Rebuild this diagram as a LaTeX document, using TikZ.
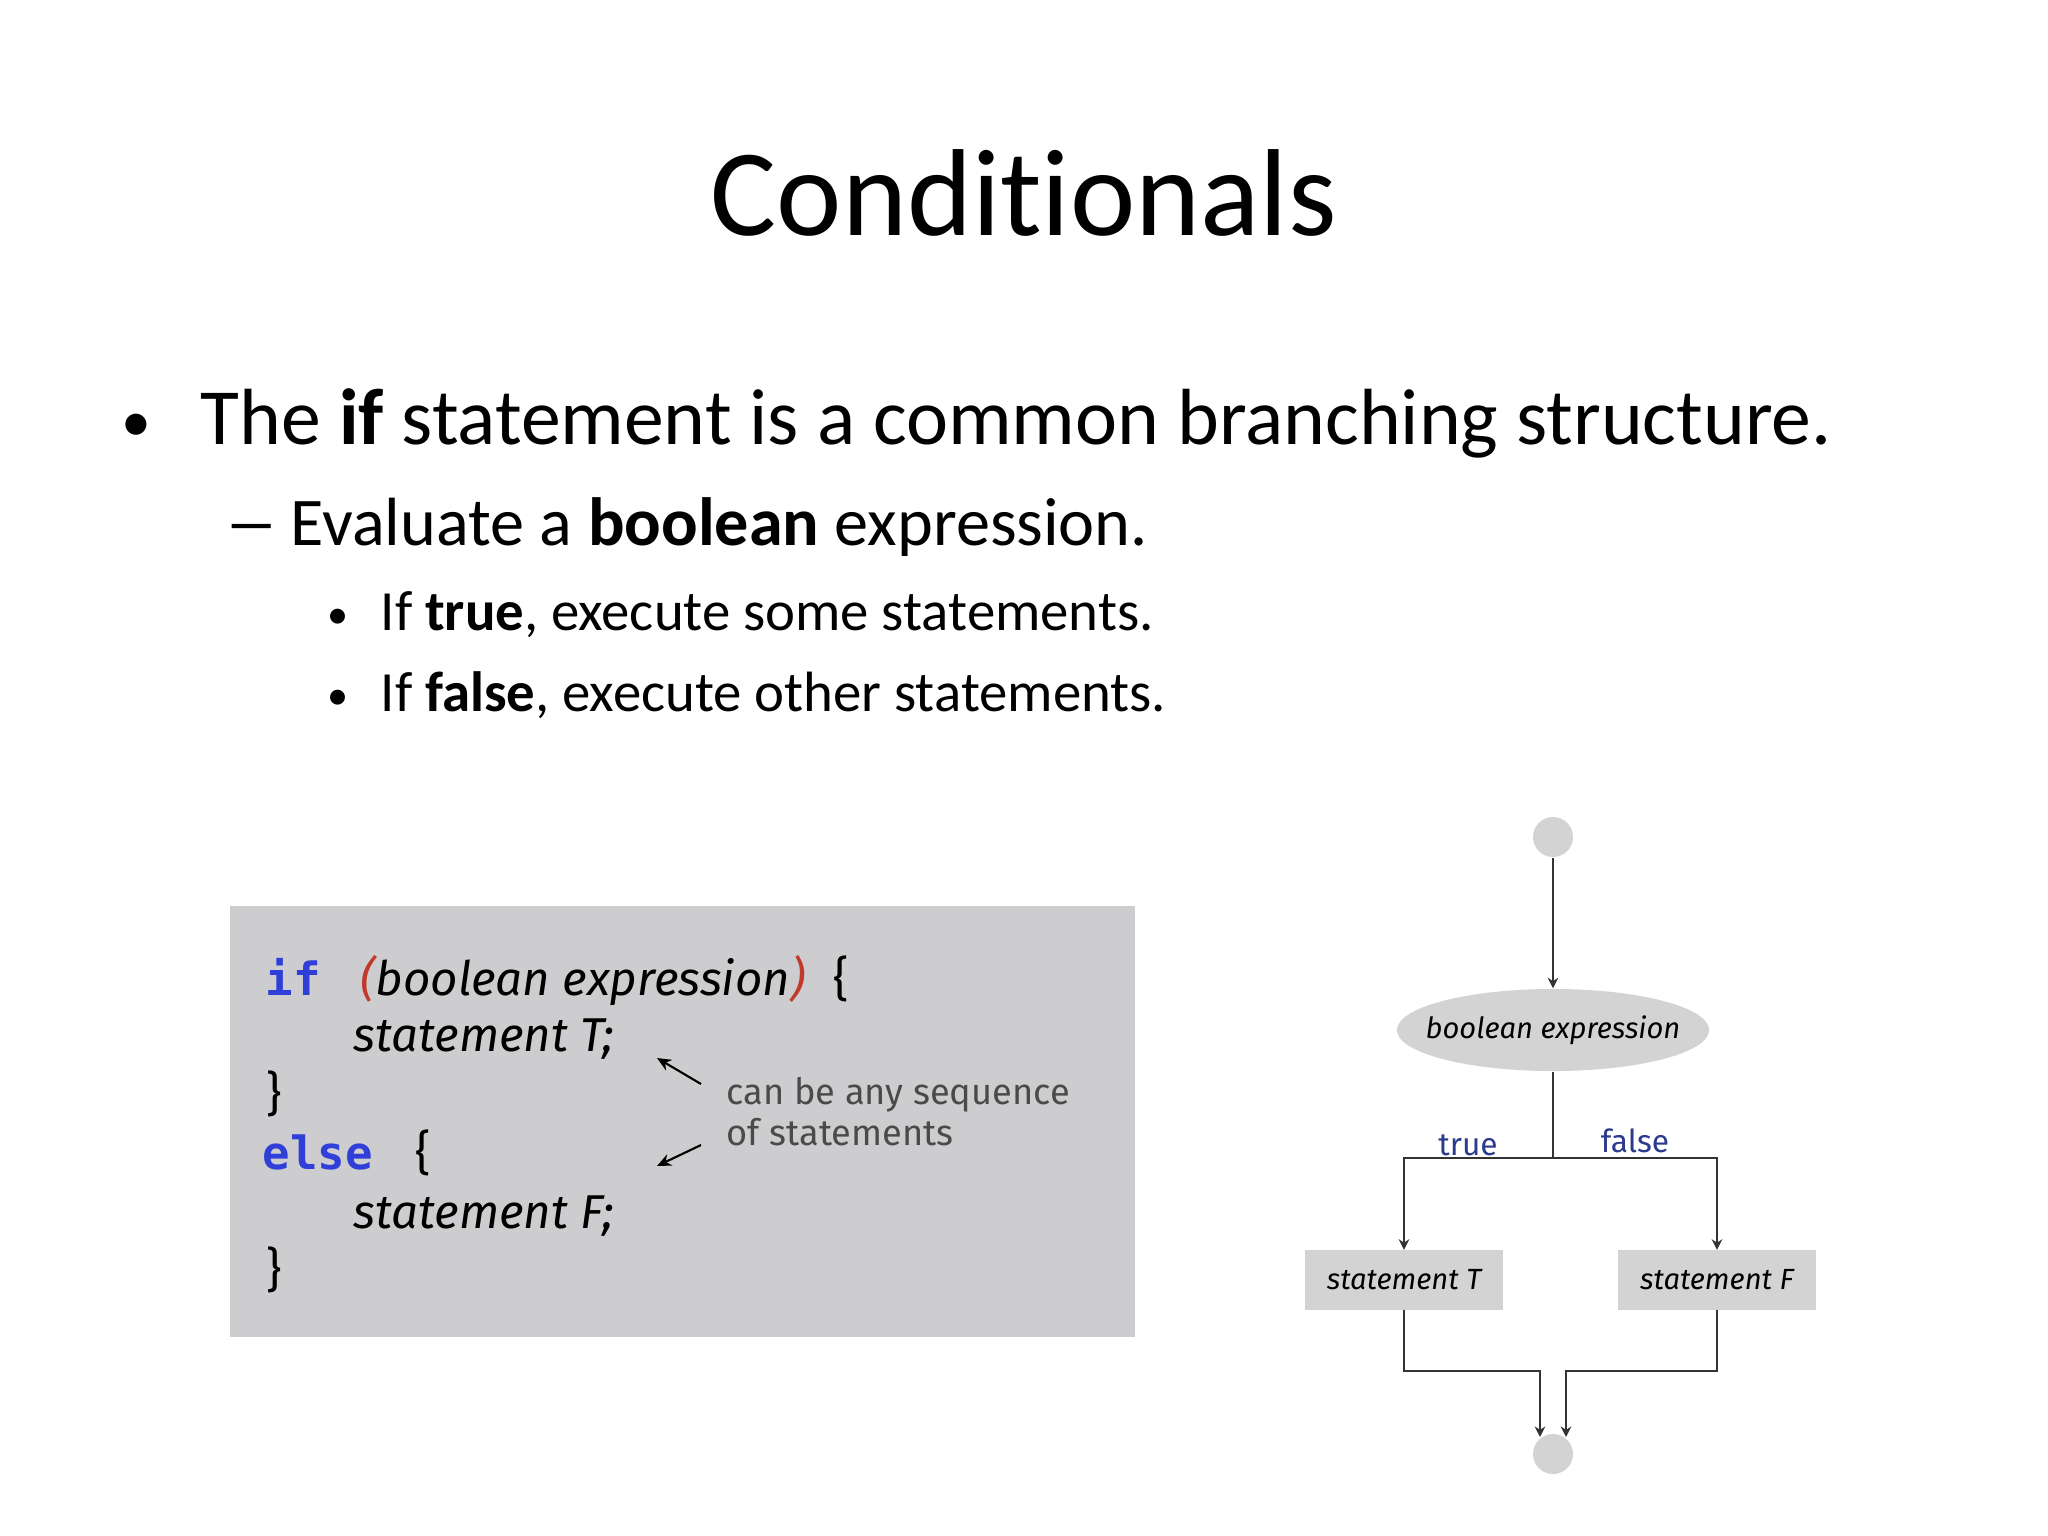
\documentclass[tikz,border=0pt]{standalone}
\usepackage{fontspec}
\setmainfont{Carlito}[Ligatures=NoCommon]
\newfontfamily\cdfont{Fira Sans}
\newfontfamily\kwfont{DejaVu Sans Mono}
\usetikzlibrary{arrows.meta,positioning,shapes.geometric}
\definecolor{boxgray}{HTML}{CDCDCF}
\definecolor{shapegray}{HTML}{D3D3D3}
\definecolor{kwblue}{HTML}{2F3FD8}
\definecolor{parred}{HTML}{C0392B}
\definecolor{lblblue}{HTML}{2B3A8C}
\definecolor{linegray}{HTML}{333333}
\definecolor{notegray}{HTML}{4A4A4A}
\tikzset{
  txt/.style={anchor=base west,inner sep=0pt},
  title/.style={anchor=base,inner sep=0pt,font=\fontsize{35.2}{42}\selectfont},
  lvlone/.style={txt,font=\fontsize{22.65}{27}\selectfont},
  lvltwo/.style={txt,font=\fontsize{19.4}{23}\selectfont},
  lvlthree/.style={txt,font=\fontsize{16.15}{19}\selectfont},
  dot/.style={anchor=base,inner sep=0pt},
  code/.style={txt,font=\cdfont\itshape\fontsize{13.5}{16}\selectfont},
  brace/.style={txt,font=\cdfont\fontsize{13.5}{16}\selectfont},
  kw/.style={txt,font=\kwfont\bfseries\fontsize{13}{16}\selectfont,text=kwblue},
  note/.style={txt,font=\cdfont\fontsize{10.3}{12}\selectfont,text=notegray},
  term/.style={circle,fill=shapegray,minimum size=0.4cm,inner sep=0pt},
  decision/.style={ellipse,fill=shapegray,minimum width=3.12cm,minimum height=0.82cm,
    inner sep=0pt,font=\cdfont\itshape\fontsize{8.3}{10}\selectfont},
  stmtbox/.style={rectangle,fill=shapegray,draw=gray!35,minimum width=1.96cm,
    minimum height=0.59cm,inner sep=0pt,font=\cdfont\itshape\fontsize{8.3}{10}\selectfont},
  wire/.style={line width=0.6pt,linegray},
  flow/.style={wire,-{Stealth[length=3pt,width=3pt]}},
  branchlbl/.style={inner sep=0pt,font=\cdfont\fontsize{9}{11}\selectfont,text=lblblue},
  pointer/.style={line width=0.6pt,black,-{Stealth[length=4pt,width=3.5pt]}},
}

\begin{document}
\begin{tikzpicture}[x=0.01cm,y=-0.01cm]
  \useasboundingbox[fill=white] (0,0) rectangle (2048,1536);

  % slide text
  \node[title] (ttl) at (1024,235) {Conditionals};
  \node[dot,font=\fontsize{17}{20}\selectfont] (b1) at (136,441) {•};
  \node[lvlone] (l1) at (200,444) {The \textbf{if} statement is a common branching structure.};
  \node[lvltwo] (b2) at (224,545) {\scalebox{1.6}[1]{–}};
  \node[lvltwo] (l2) at (290,545) {Evaluate a \textbf{boolean} expression.};
  \node[dot,font=\fontsize{12}{14}\selectfont] (b3) at (338,628) {•};
  \node[lvlthree] (l3) at (380,630) {If \textbf{true}, execute some statements.};
  \node[dot,font=\fontsize{12}{14}\selectfont] (b4) at (338,709) {•};
  \node[lvlthree] (l4) at (380,711) {If \textbf{false}, execute other statements.};

  % code box
  \fill[boxgray] (230,906) rectangle (1135,1337);
  \node[kw] (kif) at (265,995) {if};
  \node[code] (cond) at (360,995) {\textcolor{parred}{(}boolean expression\textcolor{parred}{)}};
  \node[brace] (ob1) at (833,995) {\{};
  \node[code] (st) at (353,1051) {statement T;};
  \node[brace] (cb1) at (266,1110) {\}};
  \node[kw] (kelse) at (262,1169) {else};
  \node[brace] (ob2) at (415,1169) {\{};
  \node[code] (sf) at (353,1228) {statement F;};
  \node[brace] (cb2) at (266,1286) {\}};
  \node[note] (nt1) at (726,1104) {can be any sequence};
  \node[note] (nt2) at (726,1145) {of statements};
  \coordinate (pTs) at (701,1084);
  \coordinate (pTe) at (657,1058);
  \coordinate (pFs) at (701,1145);
  \coordinate (pFe) at (657,1166);
  \draw[pointer] (pTs) -- (pTe);
  \draw[pointer] (pFs) -- (pFe);

  % flowchart
  \node[term] (start) at (1553,837) {};
  \node[decision] (test) at (1553,1030) {\makebox[0pt]{boolean expression}};
  \node[stmtbox] (stT) at (1404,1280) {statement T};
  \node[stmtbox] (stF) at (1717,1280) {statement F};
  \node[term] (stop) at (1553,1454) {};
  \coordinate (split) at (1553,1158);
  \coordinate (joinT) at (1540,1371);
  \coordinate (joinF) at (1566,1371);
  \draw[flow] (start) -- (test);
  \draw[wire] (test) -- (split);
  \draw[flow] (split) -| (stT);
  \draw[flow] (split) -| (stF);
  \draw[flow] (stT) |- (joinT) -- (1540,1437);
  \draw[flow] (stF) |- (joinF) -- (1566,1437);
  \node[branchlbl] (ltrue) at (1468,1145) {true};
  \node[branchlbl] (lfalse) at (1635,1141) {false};
\end{tikzpicture}
\end{document}
